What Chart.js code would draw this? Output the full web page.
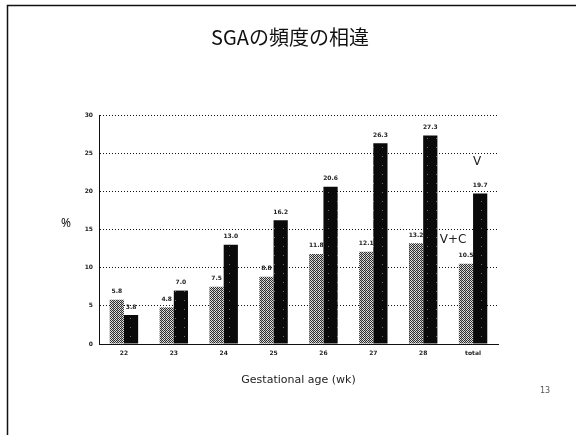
<!DOCTYPE html>
<html>
<head>
<meta charset="utf-8">
<script src="https://cdn.jsdelivr.net/npm/chart.js@4.4.1/dist/chart.umd.min.js"></script>
<style>
  html, body { margin: 0; padding: 0; background: #fff; }
  #wrap { width: 576px; height: 435px; position: relative; }
</style>
</head>
<body>
<div id="wrap"><canvas id="c" width="576" height="435"></canvas></div>
<script>
// Gestational age categories and SGA frequency (%) per group
const categories = ['22', '23', '24', '25', '26', '27', '28', 'total'];
const seriesVC = [5.8, 4.8, 7.5, 8.8, 11.8, 12.1, 13.2, 10.5];
const seriesV = [3.8, 7.0, 13.0, 16.2, 20.6, 26.3, 27.3, 19.7];
const yTicks = [0, 5, 10, 15, 20, 25, 30];
const titleText = 'SGAの頻度の相違';
const xTitle = 'Gestational age (wk)';
const yTitle = '%';
const seriesNames = ['V+C', 'V'];
const pageNo = '13';

// Dithered fills for the two bar series
function makePattern(size, fn) {
  const c = document.createElement('canvas');
  c.width = size; c.height = size;
  const g = c.getContext('2d');
  const img = g.createImageData(size, size);
  for (let y = 0; y < size; y++) {
    for (let x = 0; x < size; x++) {
      const v = fn(x, y);
      const i = (y * size + x) * 4;
      img.data[i] = v; img.data[i + 1] = v; img.data[i + 2] = v; img.data[i + 3] = 255;
    }
  }
  g.putImageData(img, 0, 0);
  return g.createPattern(c, 'repeat');
}
const grayFill = makePattern(4, (x, y) => ((x + y) % 2 === 0 ? 45 : ((x + 2 * y) % 4 === 1 ? 170 : 225)));
const blackFill = makePattern(9, (x, y) => ((x === 4 && y === 3) ? 110 : 10));

const dotted = [1, 2];

// Slide frame, title, value labels, series tags and page number
const slideDecor = {
  id: 'slideDecor',
  afterDraw(chart) {
    const ctx = chart.ctx;
    ctx.save();
    // frame lines
    ctx.strokeStyle = '#111';
    ctx.lineWidth = 1.5;
    ctx.beginPath();
    ctx.moveTo(7.5, 435); ctx.lineTo(7.5, 5.5); ctx.lineTo(576, 5.5);
    ctx.stroke();

    ctx.fillStyle = '#111';
    ctx.textAlign = 'center';
    ctx.textBaseline = 'middle';
    ctx.font = '20px "Noto Sans CJK JP", "Noto Sans", sans-serif';
    ctx.fillText(titleText, 290, 37);

    ctx.font = '12px "Noto Sans", sans-serif';
    ctx.fillText(yTitle, 66, 224);

    // value labels above each bar
    ctx.font = 'bold 6px "DejaVu Sans", sans-serif';
    ctx.fillStyle = '#222';
    chart.data.datasets.forEach((ds, di) => {
      const meta = chart.getDatasetMeta(di);
      meta.data.forEach((bar, i) => {
        ctx.fillText(ds.data[i].toFixed(1), bar.x, bar.y - 8);
      });
    });

    // series tags beside the total bars
    const xs = chart.scales.x, ys = chart.scales.y;
    const xt = xs.getPixelForValue(categories.length - 1);
    ctx.font = '12px "DejaVu Sans", sans-serif';
    ctx.fillStyle = '#222';
    ctx.fillText(seriesNames[1], xt + 4, ys.getPixelForValue(23.8));
    ctx.fillText(seriesNames[0], xt - 20, ys.getPixelForValue(13.6));

    ctx.font = '8px "DejaVu Sans", sans-serif';
    ctx.fillStyle = '#555';
    ctx.fillText(pageNo, 545, 391);
    ctx.restore();
  }
};

new Chart(document.getElementById('c'), {
  type: 'bar',
  data: {
    labels: categories,
    datasets: [
      { label: seriesNames[0], data: seriesVC, backgroundColor: grayFill, borderWidth: 0,
        barPercentage: 1.0, categoryPercentage: 0.57 },
      { label: seriesNames[1], data: seriesV, backgroundColor: blackFill, borderWidth: 0,
        barPercentage: 1.0, categoryPercentage: 0.57 }
    ]
  },
  options: {
    responsive: false,
    animation: false,
    events: [],
    layout: { padding: { left: 59, right: 78, top: 115, bottom: 44 } },
    plugins: {
      legend: { display: false },
      title: { display: false },
      tooltip: { enabled: false }
    },
    scales: {
      x: {
        afterFit(s) { s.height = 47; },
        grid: { display: false, drawTicks: false },
        border: { display: true, color: '#111', dash: dotted, width: 1 },
        ticks: { color: '#222', font: { size: 6, weight: 'bold', family: 'DejaVu Sans' }, padding: 6 },
        title: { display: true, text: xTitle, color: '#222',
                 font: { size: 11, family: 'DejaVu Sans' }, padding: { top: 0, bottom: 4 } }
      },
      y: {
        min: 0, max: 30,
        afterFit(s) { s.width = 40; },
        afterBuildTicks(s) { s.ticks = yTicks.map(v => ({ value: v })); },
        grid: { color: '#111', lineWidth: 1, drawTicks: false },
        border: { display: true, color: '#111', dash: dotted, width: 1 },
        ticks: { color: '#222', font: { size: 6, weight: 'bold', family: 'DejaVu Sans' }, padding: 6 }
      }
    }
  },
  plugins: [slideDecor]
});
</script>
</body>
</html>
